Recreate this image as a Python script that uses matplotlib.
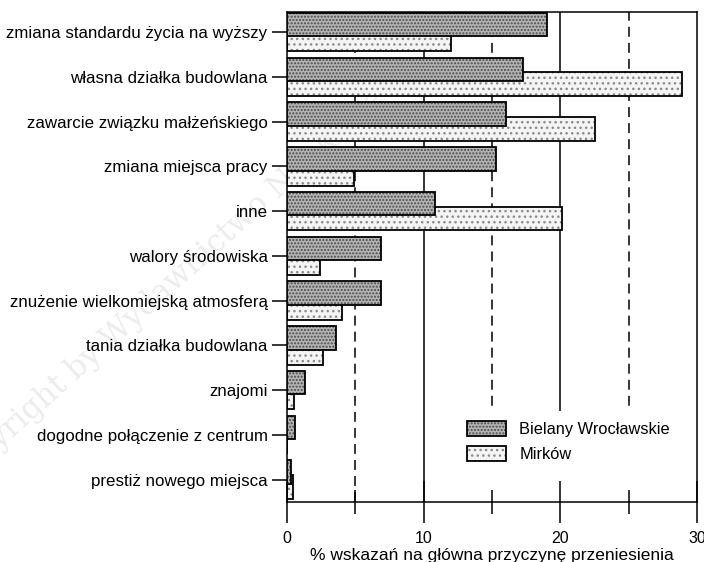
import matplotlib
matplotlib.use("Agg")
import matplotlib.pyplot as plt
from matplotlib.patches import Patch, Rectangle
import numpy as np

plt.rcParams['font.family'] = ['Liberation Sans', 'DejaVu Sans']
plt.rcParams['hatch.linewidth'] = 1.0

# data
categories = ['zmiana standardu życia na wyższy', 'własna działka budowlana',
              'zawarcie związku małżeńskiego', 'zmiana miejsca pracy', 'inne',
              'walory środowiska', 'znużenie wielkomiejską atmosferą',
              'tania działka budowlana', 'znajomi',
              'dogodne połączenie z centrum', 'prestiż nowego miejsca']
bielany = [19.0, 17.3, 16.0, 15.3, 10.8, 6.9, 6.9, 3.6, 1.3, 0.6, 0.3]
mirkow = [12.0, 28.9, 22.5, 4.9, 20.1, 2.4, 4.0, 2.6, 0.5, 0.0, 0.45]
series_names = ['Bielany Wrocławskie', 'Mirków']
xlabel = '% wskazań na główna przyczynę przeniesienia'

fig = plt.figure(figsize=(7.04, 5.62), dpi=100)
ax = fig.add_axes([0.4077, 0.1068, 0.5824, 0.8719])

# faint watermark behind everything
ax.set_facecolor('none')
fig.text(0.234, 0.484, 'Copyright by Wydawnictwo Naukowe', rotation=42,
         rotation_mode='anchor', ha='center', va='center', fontsize=22,
         family='DejaVu Serif', color='#ececec', zorder=-1)

y = np.arange(len(categories))
h = 0.53
off = 0.167

# Mirków (behind), light dotted
ax.barh(y + off, mirkow, height=h, color='#f4f4f4', edgecolor='#8a8a8a',
        hatch='...', linewidth=0, zorder=2)
ax.barh(y + off, mirkow, height=h, fill=False, edgecolor='black',
        linewidth=1.3, zorder=2.1)
# Bielany (front), dense dark dots
ax.barh(y - off, bielany, height=h, color='#b4b4b4', edgecolor='#4a4a4a',
        hatch='.....', linewidth=0, zorder=3)
ax.barh(y - off, bielany, height=h, fill=False, edgecolor='black',
        linewidth=1.3, zorder=3.1)

# reference lines
for v in [10, 20]:
    ax.axvline(v, color='black', lw=1.1, zorder=1)
for v in [5, 15, 25]:
    ax.axvline(v, color='black', lw=1.1, ls=(0, (6.5, 4)), zorder=1)

# white area behind legend hides the grid
ax.add_patch(Rectangle((0.41, 0.003), 0.585, 0.183, transform=ax.transAxes,
                       facecolor='white', edgecolor='none', zorder=1.5))

ax.set_xlim(0, 30)
ax.set_ylim(10.5, -0.45)
ax.set_xticks([0, 10, 20, 30])
ax.set_xticks([5, 15, 25], minor=True)
ax.set_yticks(y)
ax.set_yticklabels(categories, fontsize=12.2)
ax.tick_params(axis='x', which='major', direction='inout', length=30,
               width=1.1, labelsize=11.5, pad=6)
ax.tick_params(axis='x', which='minor', direction='inout', length=17, width=1.1)
ax.tick_params(axis='y', direction='out', length=11, width=1.1, pad=3)
ax.set_xlabel(xlabel, fontsize=12.5, labelpad=1)
for s in ax.spines.values():
    s.set_linewidth(1.1)

handles = []
for fc, hc, hp in [('#b4b4b4', '#4a4a4a', '.....'), ('#f4f4f4', '#8a8a8a', '...')]:
    fill = Patch(facecolor=fc, edgecolor=hc, hatch=hp, linewidth=0)
    border = Patch(fill=False, edgecolor='black', linewidth=1.3)
    handles.append((fill, border))
ax.legend(handles, series_names, loc='upper left', bbox_to_anchor=(0.423, 0.178),
          frameon=False, fontsize=11.8, handlelength=2.4, handleheight=1.0,
          labelspacing=0.55, handletextpad=0.8, borderaxespad=0)

fig.savefig('out.png', dpi=100)
